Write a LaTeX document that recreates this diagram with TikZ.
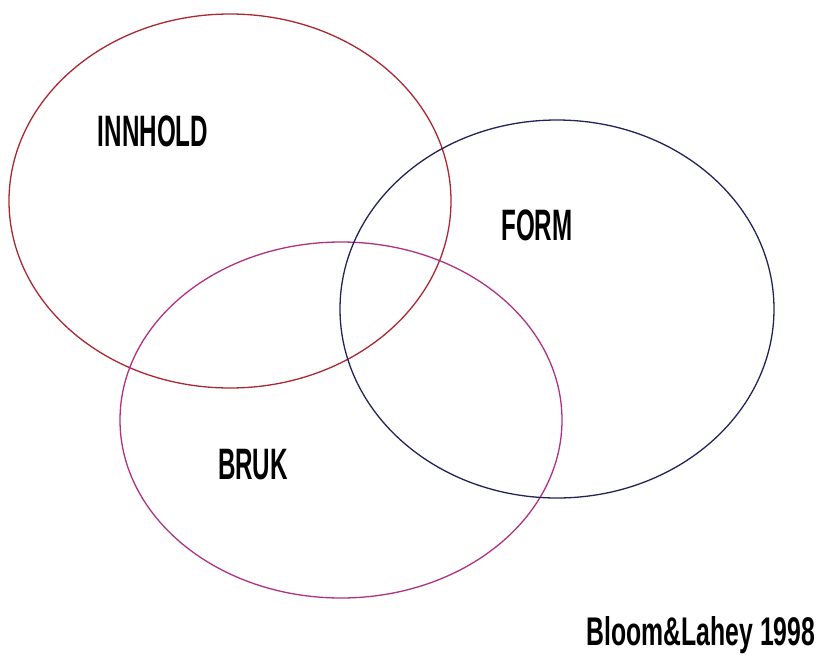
\documentclass[tikz,border=0pt]{standalone}
\usepackage{fontspec}
\newfontfamily\vennfont[FakeStretch=0.55]{Liberation Sans}
\newfontfamily\creditfont[FakeStretch=0.62]{Liberation Sans}
\definecolor{innred}{RGB}{170,40,50}
\definecolor{formblue}{RGB}{35,35,90}
\definecolor{brukpink}{RGB}{175,50,130}
\begin{document}
\begin{tikzpicture}[x=1pt,y=-1pt, line join=round, line cap=round]
        \tikzset{ring/.style={line width=1.3pt},
                 tag/.style={font=\vennfont\bfseries\fontsize{44}{44}\selectfont, inner sep=0pt}}
        \useasboundingbox[fill=white] (0,0) rectangle (822,662);
        % the three sets
        \draw[ring,innred] (230,201) ellipse [x radius=221, y radius=187];
        \draw[ring,brukpink] (341,420) ellipse [x radius=221, y radius=178];
        \draw[ring,formblue] (557,309) ellipse [x radius=217, y radius=189];
        % labels
        \node[tag] (innhold) at (153,131) {INNHOLD};
        \node[tag] (form) at (537,225) {FORM};
        \node[tag] (bruk) at (253,465) {BRUK};
        \node[tag, font=\creditfont\bfseries\fontsize{40}{40}\selectfont] (source) at (701,635) {Bloom\&Lahey 1998};
\end{tikzpicture}
\end{document}
